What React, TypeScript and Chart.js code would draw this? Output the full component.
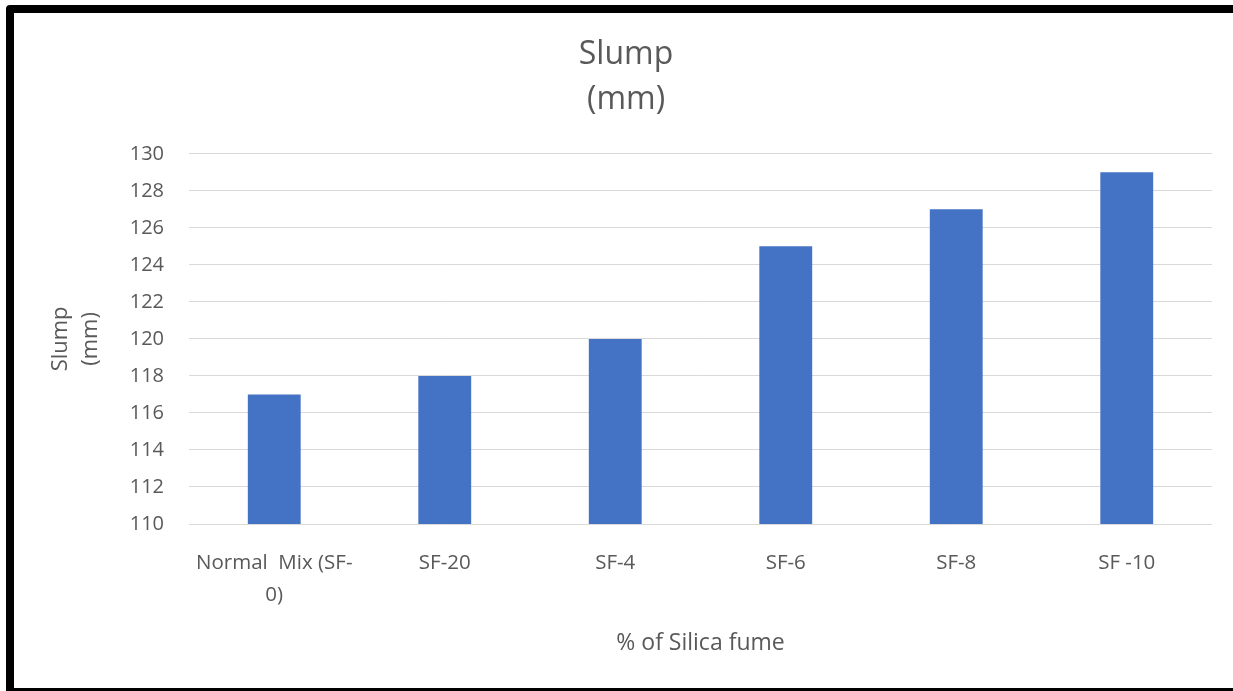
import React, { useEffect, useRef } from "react";
import { Chart, registerables } from "chart.js";

Chart.register(...registerables);

const categoryLabels: (string | string[])[] = [
  ["Normal  Mix (SF-", "0)"],
  "SF-20",
  "SF-4",
  "SF-6",
  "SF-8",
  "SF -10",
];
const slumpValues = [117, 118, 120, 125, 127, 129];
const chartTitle = ["Slump", "(mm)"];
const yAxisTitle = ["Slump", "(mm)"];
const xAxisTitle = "% of Silica fume";
const yMin = 110;
const yMax = 130;
const yStep = 2;

const TEXT = "#595959";
const FONT = "'Open Sans', 'Noto Sans', sans-serif";

const framePlugin = {
  id: "frame",
  beforeDraw(chart: any) {
    const { ctx, width, height } = chart;
    ctx.save();
    ctx.fillStyle = "#ffffff";
    ctx.fillRect(0, 0, width, height);
    ctx.restore();
  },
  afterDraw(chart: any) {
    const { ctx } = chart;
    ctx.save();
    ctx.strokeStyle = "#000000";
    ctx.lineWidth = 8;
    ctx.lineJoin = "round";
    ctx.strokeRect(10, 9, 1300, 683);
    ctx.restore();
  },
};

export default function App() {
  const canvasRef = useRef<HTMLCanvasElement | null>(null);

  useEffect(() => {
    if (!canvasRef.current) return;
    const chart = new Chart(canvasRef.current, {
      type: "bar",
      data: {
        labels: categoryLabels,
        datasets: [
          {
            label: "Slump (mm)",
            data: slumpValues,
            backgroundColor: "#4472C4",
            borderWidth: 0,
            barPercentage: 0.31,
            categoryPercentage: 1,
          },
        ],
      },
      options: {
        responsive: false,
        animation: false,
        layout: { padding: { left: 40, right: 21, top: 0, bottom: 0 } },
        plugins: {
          legend: { display: false },
          tooltip: { enabled: false },
          title: {
            display: true,
            text: chartTitle,
            color: TEXT,
            font: { family: FONT, size: 32, weight: "normal", lineHeight: 1.4 },
            padding: { top: 32.6, bottom: 31.6 },
          },
        },
        scales: {
          x: {
            grid: { display: false, drawTicks: false },
            border: { display: false },
            ticks: {
              color: TEXT,
              font: { family: FONT, size: 20.5, lineHeight: 1.55 },
              padding: 23,
              maxRotation: 0,
              autoSkip: false,
            },
            title: {
              display: true,
              text: xAxisTitle,
              color: TEXT,
              font: { family: FONT, size: 23, lineHeight: 1.2 },
              padding: { top: 0, bottom: 34.2 },
            },
            afterFit(scale: any) {
              scale.height = 167;
            },
          },
          y: {
            min: yMin,
            max: yMax,
            border: { display: false },
            grid: { color: "#D9D9D9", lineWidth: 1, drawTicks: false },
            ticks: {
              stepSize: yStep,
              color: TEXT,
              font: { family: FONT, size: 20 },
              padding: 25,
            },
            title: {
              display: true,
              text: yAxisTitle,
              color: TEXT,
              font: { family: FONT, size: 22, lineHeight: 1.4 },
              padding: { top: 5, bottom: 0 },
            },
            afterFit(scale: any) {
              scale.width = 149;
            },
          },
        },
      },
      plugins: [framePlugin],
    });
    return () => chart.destroy();
  }, []);

  return (
    <div style={{ position: "fixed", left: 0, top: 0, width: 1233, height: 691 }}>
      <canvas ref={canvasRef} width={1233} height={691} />
    </div>
  );
}
